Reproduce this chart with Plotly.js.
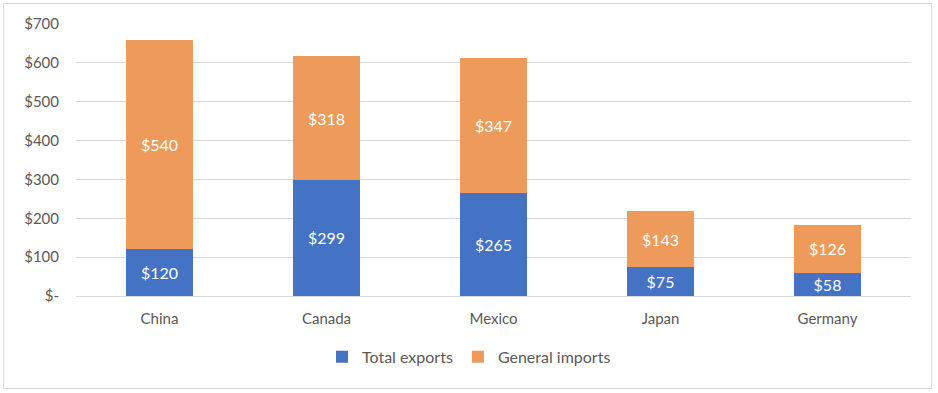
<!DOCTYPE html>
<html>
<head>
<meta charset="utf-8">
<script src="https://cdn.plot.ly/plotly-3.0.1.min.js"></script>
<style>
html,body{margin:0;padding:0;background:#fff;}
#wrap{position:relative;width:938px;height:393px;}
#chart{width:938px;height:393px;}
#frame{position:absolute;left:3px;top:3px;width:927px;height:384px;border:1px solid #d9d9d9;pointer-events:none;}
</style>
</head>
<body>
<div id="wrap"><div id="chart"></div><div id="frame"></div></div>
<script>
const categories = ["China", "Canada", "Mexico", "Japan", "Germany"];
const totalExports = [120, 299, 265, 75, 58];
const generalImports = [540, 318, 347, 143, 126];
const tickValues = [0, 100, 200, 300, 400, 500, 600, 700];
const tickLabels = ["$-", "$100", "$200", "$300", "$400", "$500", "$600", "$700"];

const fontFam = "Lato, 'Open Sans', sans-serif";
const lbl = v => "$" + v;

const traces = [
  {type: "bar", name: "Total exports", x: categories, y: totalExports,
   marker: {color: "#4472c4"}, text: totalExports.map(lbl),
   textposition: "inside", insidetextanchor: "middle", textangle: 0,
   constraintext: "none",
   textfont: {color: "#ffffff", size: 16, family: fontFam}, hoverinfo: "x+y"},
  {type: "bar", name: "General imports", x: categories, y: generalImports,
   marker: {color: "#ed9a5a"}, text: generalImports.map(lbl),
   textposition: "inside", insidetextanchor: "middle", textangle: 0,
   constraintext: "none",
   textfont: {color: "#ffffff", size: 16, family: fontFam}, hoverinfo: "x+y"}
];

const layout = {
  width: 938, height: 393,
  barmode: "stack", bargap: 0.6,
  margin: {l: 76, r: 27, t: 24, b: 97},
  paper_bgcolor: "#ffffff", plot_bgcolor: "#ffffff",
  font: {family: fontFam, color: "#595959", size: 14},
  xaxis: {showgrid: false, showline: false, zeroline: false, ticks: "",
          automargin: false, ticklabelstandoff: 12,
          tickfont: {size: 15, color: "#595959"}},
  yaxis: {range: [0, 700], tickvals: tickValues, ticktext: tickLabels,
          automargin: false,
          showgrid: true, gridcolor: "#d9d9d9", gridwidth: 1,
          zeroline: true, zerolinecolor: "#d9d9d9", zerolinewidth: 1,
          showline: false, ticks: "", ticklabelstandoff: 16,
          tickfont: {size: 15, color: "#595959"}},
  legend: {orientation: "h", x: 0.5, xanchor: "center", xref: "container",
           y: 0.092, yanchor: "middle", yref: "container",
           font: {size: 16, color: "#595959"}, traceorder: "normal",
           itemwidth: 30},
  showlegend: true
};

Plotly.newPlot("chart", traces, layout, {displayModeBar: false, staticPlot: true});
</script>
</body>
</html>
